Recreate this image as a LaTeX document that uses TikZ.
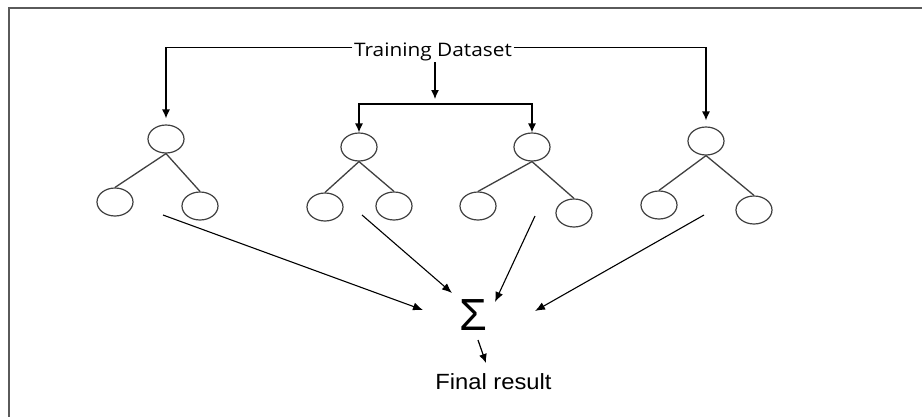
\documentclass[tikz,border=0pt]{standalone}
\usepackage{fontspec}
\usetikzlibrary{arrows.meta,shapes.geometric}
\newfontfamily\tdfont[FakeStretch=1.12]{Open Sans}
\newfontfamily\arfont[FakeStretch=1.08]{Liberation Sans}
\newfontfamily\sigfont{Liberation Sans}
\definecolor{framegray}{HTML}{5A5A5A}
\definecolor{treegray}{HTML}{404040}
\tikzset{
  leaf/.style={ellipse, draw=treegray, line width=1.2pt, minimum width=36pt, minimum height=28pt, inner sep=0pt},
  branch/.style={draw=treegray, line width=1.3pt},
  arr/.style={draw=black, line width=1.2pt, -{Latex[length=9pt,width=8pt]}},
  feed/.style={draw=black, line width=1.1pt, -{Latex[length=10pt,width=8pt]}},
}
\begin{document}
\begin{tikzpicture}[x=1pt,y=-1pt]
\useasboundingbox (0,0) rectangle (922,416);
\fill[white] (0,0) rectangle (922,416);
% frame
\draw[framegray, line width=2pt] (9,418) -- (9,8) -- (924,8);

% title
\node[font=\tdfont\fontsize{18.6}{20}\selectfont, anchor=base, inner sep=1.5pt] (td) at (433,56) {Training Dataset};

% trees
\node[leaf] (r1) at (166,139) {};
\node[leaf] (a1) at (115,202) {};
\node[leaf] (b1) at (200,206) {};
\node[leaf] (r2) at (359,147) {};
\node[leaf] (a2) at (325,207) {};
\node[leaf] (b2) at (394,206) {};
\node[leaf] (r3) at (532,147) {};
\node[leaf] (a3) at (478,206) {};
\node[leaf] (b3) at (574,213) {};
\node[leaf] (r4) at (706,141) {};
\node[leaf] (a4) at (659,205) {};
\node[leaf] (b4) at (754,210) {};
\foreach \i in {1,2,3,4}{
  \draw[branch] (r\i.south) -- (a\i.north);
  \draw[branch] (r\i.south) -- (b\i.north);
}

% dataset distribution
\draw[arr, shorten >=6pt] ([yshift=4pt]td.west) -| (r1.north);
\draw[arr, shorten >=6pt] ([yshift=4pt]td.east) -| (r4.north);
\coordinate (brk) at (435,104);
\draw[arr] ([xshift=2pt]td.south) -- ([yshift=5pt]brk);
\draw[arr] (brk) -| (r2.north);
\draw[arr] (brk) -| (r3.north);

% aggregation
\node[font=\sigfont\fontsize{45}{45}\selectfont, inner sep=0pt] (s) at (473,315) {Σ};
\coordinate (c1) at (163,215);
\coordinate (c2) at (362,215);
\coordinate (c3) at (535,216);
\coordinate (c4) at (704,215);
\coordinate (t1) at (423,310);
\coordinate (t2) at (452,293);
\coordinate (t3) at (495,302);
\coordinate (t4) at (535,311);
\foreach \i in {1,2,3,4}{
  \draw[feed] (c\i) -- (t\i);
}
\node[font=\arfont\fontsize{22}{24}\selectfont, anchor=base, inner sep=0pt] (fr) at (493.5,389.3) {Final result};
\coordinate (f0) at (478,340);
\coordinate (f1) at (486,363);
\draw[arr] (f0) -- (f1);
\end{tikzpicture}
\end{document}
